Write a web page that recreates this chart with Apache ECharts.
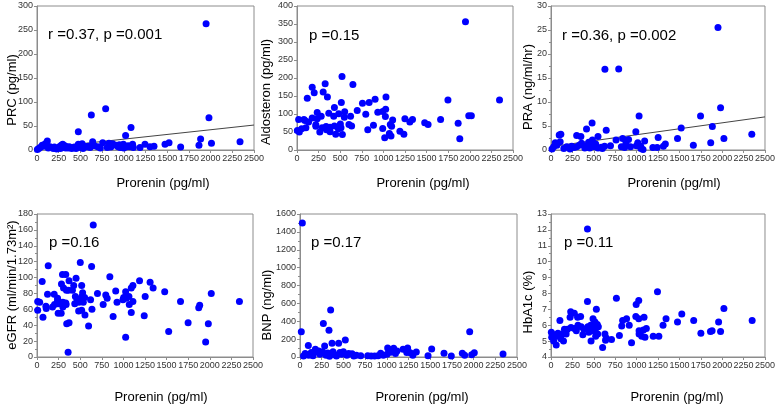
<!DOCTYPE html>
<html><head><meta charset="utf-8">
<script src="https://cdn.jsdelivr.net/npm/echarts@6/dist/echarts.min.js"></script>
<style>html,body{margin:0;padding:0;background:#fff}#c{width:778px;height:407px}</style>
</head><body><div id="c"></div>
<script>
// ---- data ----
const xTitle = 'Prorenin (pg/ml)';
const xRange = [0, 2500, 250];

const prc = [[4,1],[35,5],[73,8],[104,14],[119,19],[150,7],[188,3],[227,2],[257,7],[296,12],[304,5],[342,7],[372,7],[400,3],[476,38],[476,12],[515,10],[541,8],[572,7],[611,5],[626,73],[641,17],[699,7],[757,15],[791,86],[829,14],[810,5],[872,13],[910,10],[935,7],[995,12],[1021,30],[1039,7],[1083,47],[1101,12],[1071,7],[1187,5],[1244,12],[1302,7],[1348,8],[1475,12],[1521,15],[1655,6],[1866,10],[1885,23],[1981,67],[1948,263],[2010,14],[2339,17],[130,4],[200,6],[270,3],[320,9],[360,4],[430,6],[450,3],[500,5],[530,3],[590,8],[660,9],[730,4],[850,6],[960,5],[1000,4],[1050,9],[1110,5],[20,3],[60,10],[90,12],[280,10],[330,4],[470,9],[520,13],[950,11]];
const prcFit = [[0,3],[2500,52]];

const aldo = [[1950,356],[521,204],[326,184],[647,182],[176,174],[199,159],[303,161],[119,144],[352,147],[1030,147],[1747,139],[2344,139],[904,141],[835,132],[513,132],[758,130],[433,118],[1026,113],[697,110],[234,104],[552,106],[992,107],[935,105],[368,102],[483,101],[796,99],[620,94],[425,94],[280,94],[1023,93],[1988,95],[2018,95],[548,91],[234,87],[176,89],[19,85],[80,85],[92,82],[134,78],[1107,83],[1249,87],[1337,85],[1662,85],[1306,78],[1478,76],[1517,71],[1865,74],[1080,71],[601,71],[632,67],[885,69],[502,72],[218,70],[218,66],[103,62],[54,59],[337,65],[383,63],[433,67],[291,62],[509,62],[479,59],[1095,66],[992,60],[264,50],[819,56],[1191,52],[1237,44],[27,50],[4,54],[448,44],[525,43],[1069,46],[1088,39],[1015,34],[1884,31],[383,51],[341,56]];

const pra = [[1951,25.5],[630,16.8],[791,16.9],[1981,8.8],[1029,7.1],[1747,7.1],[1885,4.9],[1521,4.6],[480,5.6],[415,4.4],[645,4.1],[991,3.8],[2346,3.3],[2020,2.4],[1478,2.4],[1252,2.6],[115,3.3],[96,3.1],[549,2.8],[300,3.0],[349,2.8],[837,2.4],[906,2.2],[1094,1.9],[760,2.1],[107,1.7],[484,2.1],[69,1.0],[31,0.7],[12,0.2],[184,0.7],[242,0.8],[357,1.4],[415,0.9],[511,0.7],[522,1.25],[588,0.55],[626,0.8],[695,0.9],[822,0.7],[875,1.4],[929,0.7],[1014,1.5],[1048,0.8],[1075,0.1],[1190,0.5],[1240,0.5],[1313,0.8],[1336,1.25],[1663,1.0],[1866,1.5],[300,0.7],[395,0.4],[223,0.2],[453,0.4],[549,0.4],[998,0.9],[50,1.5],[150,0.3],[270,0.5],[330,1.0],[440,1.6],[470,1.1],[600,0.3],[860,0.5],[1050,0.3]];
const praFit = [[0,0.7],[2500,6.9]];

const egfr = [[651,166],[130,115],[501,119],[632,114],[60,95],[295,104],[333,104],[452,99],[843,101],[371,96],[1187,96],[1309,94],[1344,87],[283,92],[517,90],[1110,90],[1091,87],[307,87],[425,90],[410,84],[364,84],[341,84],[528,81],[700,80],[911,83],[1026,82],[1478,82],[2017,80],[122,79],[199,79],[796,78],[812,74],[1064,76],[1252,76],[444,76],[521,76],[551,75],[463,73],[238,74],[238,71],[1003,75],[995,72],[1033,74],[482,71],[620,72],[8,70],[31,69],[1110,70],[1661,70],[2343,70],[486,69],[536,69],[926,69],[245,67],[203,66],[333,68],[299,69],[437,67],[1068,66],[766,66],[1883,65],[1872,62],[180,63],[103,64],[107,61],[299,63],[337,66],[636,60],[8,59],[517,59],[482,58],[555,53],[245,55],[280,55],[881,51],[1241,52],[69,50],[1091,56],[371,43],[344,42],[1749,43],[1983,42],[597,39],[1524,32],[1026,25],[1952,19],[360,6]];

const bnp = [[27,1500],[15,283],[353,525],[269,376],[334,298],[1955,283],[522,190],[96,130],[284,123],[369,153],[445,153],[1517,89],[1010,100],[1079,97],[1187,86],[1240,100],[1340,56],[177,86],[215,67],[1659,41],[1870,41],[2008,48],[2339,33],[1475,15],[1743,11],[1897,19],[1978,26],[1117,67],[1041,52],[1002,30],[929,41],[1271,48],[40,10],[60,40],[100,20],[130,50],[150,15],[200,55],[230,30],[260,60],[300,20],[320,45],[340,8],[380,60],[400,25],[420,10],[460,50],[480,30],[500,60],[540,20],[560,40],[600,35],[620,10],[650,20],[700,15],[780,15],[820,10],[860,12],[900,15],[960,20],[1030,80],[1060,60],[1100,40],[1230,50],[1300,20]];

const hba1c = [[426,12.05],[1244,8.1],[764,7.7],[426,7.5],[1025,7.55],[995,7.3],[530,7.0],[2020,7.05],[230,6.85],[272,6.75],[1528,6.7],[346,6.55],[311,6.5],[223,6.5],[991,6.55],[1087,6.5],[883,6.4],[837,6.3],[1025,6.4],[491,6.4],[104,6.3],[1344,6.4],[1667,6.3],[2350,6.3],[514,6.2],[1478,6.2],[1958,6.2],[914,6.0],[1309,6.0],[315,6.0],[541,6.05],[430,5.9],[553,5.9],[353,5.9],[826,5.95],[234,5.85],[464,6.0],[272,5.8],[522,5.8],[1114,5.8],[192,5.75],[384,5.75],[296,5.65],[480,5.65],[1029,5.65],[157,5.75],[1079,5.7],[1882,5.65],[1981,5.6],[1863,5.6],[81,5.5],[1751,5.5],[4,5.55],[31,5.4],[127,5.45],[442,5.55],[545,5.45],[630,5.45],[372,5.4],[177,5.45],[799,5.35],[1029,5.45],[522,5.3],[1194,5.3],[1260,5.3],[8,5.25],[61,5.3],[1060,5.3],[1098,5.25],[645,5.2],[115,5.15],[707,5.1],[31,5.0],[146,5.0],[468,5.0],[637,5.05],[941,4.9],[61,4.75],[603,4.6]];

// ---- panel layout ----
const panels = [
  {data: prc,  fit: prcFit, y:[0,300,50],  minor:false, l:37,  t:6,   w:217, h:144, title:'PRC (pg/ml)',        tx:12,  ty:90,  note:'r =0.37, p =0.001', nx:48,  ny:35,  lx:163, ly:183},
  {data: aldo, fit: null,   y:[0,400,50],  minor:false, l:297, t:6,   w:216, h:144, title:'Aldosteron (pg/ml)', tx:266, ty:92,  note:'p =0.15',           nx:309, ny:36,  lx:423, ly:183},
  {data: pra,  fit: praFit, y:[0,30,5],    minor:true,  l:551, t:6,   w:217, h:144, title:'PRA (ng/ml/hr)',     tx:528, ty:87,  note:'r =0.36, p =0.002', nx:562, ny:36,  lx:674, ly:183},
  {data: egfr, fit: null,   y:[0,180,20],  minor:true,  l:37,  t:214, w:216, h:143, title:'eGFR (ml/min/1.73m²)',tx:12, ty:285, note:'p =0.16',           nx:49,  ny:243, lx:161, ly:397},
  {data: bnp,  fit: null,   y:[0,1600,200],minor:true,  l:300, t:214, w:217, h:143, title:'BNP (ng/ml)',        tx:267, ty:305, note:'p =0.17',           nx:311, ny:243, lx:422, ly:397},
  {data: hba1c,fit: null,   y:[4,13,1],    minor:true,  l:551, t:214, w:217, h:143, title:'HbA1c (%)',          tx:528, ty:302, note:'p =0.11',           nx:564, ny:243, lx:677, ly:397}
];

const FONT = '"Liberation Sans", Arial, sans-serif';
const grid = [], xAxis = [], yAxis = [], series = [], graphic = [];
panels.forEach((p, i) => {
  grid.push({left: p.l, top: p.t, width: p.w, height: p.h, show: true, borderColor: '#8c8c8c', borderWidth: 1, backgroundColor: '#fff'});
  const common = {
    gridIndex: i, type: 'value',
    axisLine: {show: true, onZero: false, lineStyle: {color: '#8c8c8c', width: 1}},
    axisTick: {show: true, inside: false, length: 3, lineStyle: {color: '#8c8c8c'}},
    splitLine: {show: false},
    axisLabel: {fontSize: 9, fontFamily: FONT, color: '#333', margin: 4, showMinLabel: true, showMaxLabel: true,
      formatter: v => String(v)}
  };
  xAxis.push(Object.assign({}, common, {min: xRange[0], max: xRange[1], interval: xRange[2]}));
  yAxis.push(Object.assign({}, common, {min: p.y[0], max: p.y[1], interval: p.y[2],
    minorTick: {show: p.minor, splitNumber: 2, length: 2, lineStyle: {color: '#8c8c8c'}}}));
  series.push({type: 'scatter', xAxisIndex: i, yAxisIndex: i, data: p.data, symbolSize: 7,
    itemStyle: {color: '#0000ff', opacity: 1}, silent: true, animation: false, z: 3});
  if (p.fit) {
    series.push({type: 'line', xAxisIndex: i, yAxisIndex: i, data: p.fit, symbol: 'none',
      lineStyle: {color: '#444', width: 1}, silent: true, animation: false, z: 2});
  }
  graphic.push({type: 'text', x: p.tx, y: p.ty, rotation: Math.PI / 2, z: 10,
    style: {text: p.title, font: '13px ' + FONT, fill: '#000', textAlign: 'center', textVerticalAlign: 'middle', align: 'center', verticalAlign: 'middle'}});
  graphic.push({type: 'text', x: p.nx, y: p.ny, z: 10,
    style: {text: p.note, font: '15px ' + FONT, fill: '#000', textAlign: 'left', textVerticalAlign: 'middle', align: 'left', verticalAlign: 'middle'}});
  graphic.push({type: 'text', x: p.lx, y: p.ly, z: 10,
    style: {text: xTitle, font: '13px ' + FONT, fill: '#000', textAlign: 'center', textVerticalAlign: 'middle', align: 'center', verticalAlign: 'middle'}});
});

const chart = echarts.init(document.getElementById('c'), null, {renderer: 'canvas'});
chart.setOption({animation: false, backgroundColor: '#fff', grid, xAxis, yAxis, series, graphic});
</script>
</body></html>
